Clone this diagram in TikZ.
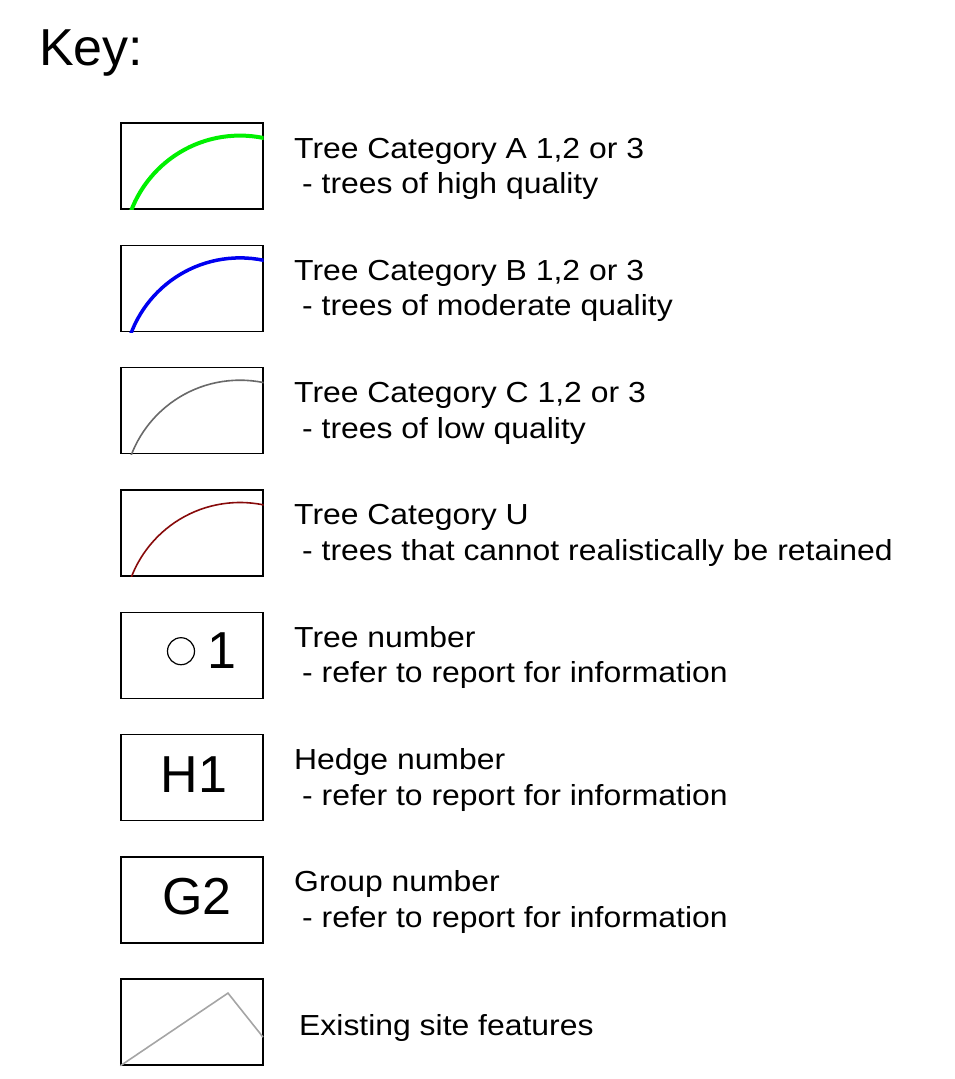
\documentclass[tikz,border=0pt]{standalone}
\usepackage{fontspec}
\usetikzlibrary{calc}
\setmainfont{Liberation Sans}
\newfontfamily\lblfont[FakeStretch=1.1]{Liberation Sans}
\definecolor{catA}{RGB}{0,240,0}
\definecolor{catB}{RGB}{0,0,240}
\definecolor{catC}{RGB}{105,105,105}
\definecolor{catU}{RGB}{135,10,10}
\definecolor{sitegray}{RGB}{165,165,165}
\tikzset{
  keybox/.style={draw=black, line width=1.4pt, minimum width=142pt, minimum height=86pt, inner sep=0pt},
  lbl/.style={anchor=base west, inner sep=0pt, font=\lblfont\fontsize{29}{34}\selectfont},
  big/.style={anchor=base, inner sep=0pt, font=\fontsize{52}{60}\selectfont},
  arcA/.style={draw=catA, line width=4pt},
  arcB/.style={draw=catB, line width=3.5pt},
  arcC/.style={draw=catC, line width=1.6pt},
  arcU/.style={draw=catU, line width=1.6pt}
}
\begin{document}
\begin{tikzpicture}[x=1pt, y=-1pt]
\useasboundingbox (0,0) rectangle (954,1079);
\node[big, anchor=base west] (key) at (39,65) {Key:};
% boxes
\foreach \i in {0,...,7} {
  \node[keybox] (b\i) at (192, {166+122.3*\i}) {};
}
% tree arcs
\foreach \i/\st in {0/arcA, 1/arcB, 2/arcC, 3/arcU} {
  \begin{scope}
    \clip (b\i.south west) rectangle (b\i.north east);
    \draw[\st, shift={(b\i.center)}] (48,86) circle[radius=116.4];
  \end{scope}
}
% tree number
\draw[line width=1.2pt, shift={(b4.center)}] (-11,-4) circle[radius=13.5];
\node[big] (t1) at (222, 668) {1};
\node[big] (h1) at (194, 792) {H1};
\node[big] (g2) at (197, 914) {G2};
% site features
\coordinate (sf1) at ($(b7.center)+(36,-29)$);
\coordinate (sf2) at ($(b7.center)+(71,15)$);
\draw[sitegray, line width=1.6pt] (b7.south west) -- (sf1) -- (sf2);
% labels
\foreach \i/\a/\b in {0/{Tree Category A 1,2 or 3}/{- trees of high quality},
                      1/{Tree Category B 1,2 or 3}/{- trees of moderate quality},
                      2/{Tree Category C 1,2 or 3}/{- trees of low quality},
                      3/{Tree Category U}/{- trees that cannot realistically be retained},
                      4/{Tree number}/{- refer to report for information},
                      5/{Hedge number}/{- refer to report for information},
                      6/{Group number}/{- refer to report for information}} {
  \node[lbl] (la\i) at (294, {158+122.3*\i}) {\a};
  \node[lbl] (lb\i) at (302, {193.5+122.3*\i}) {\b};
}
\node[lbl] (l7) at (299, 1035) {Existing site features};
\end{tikzpicture}
\end{document}
